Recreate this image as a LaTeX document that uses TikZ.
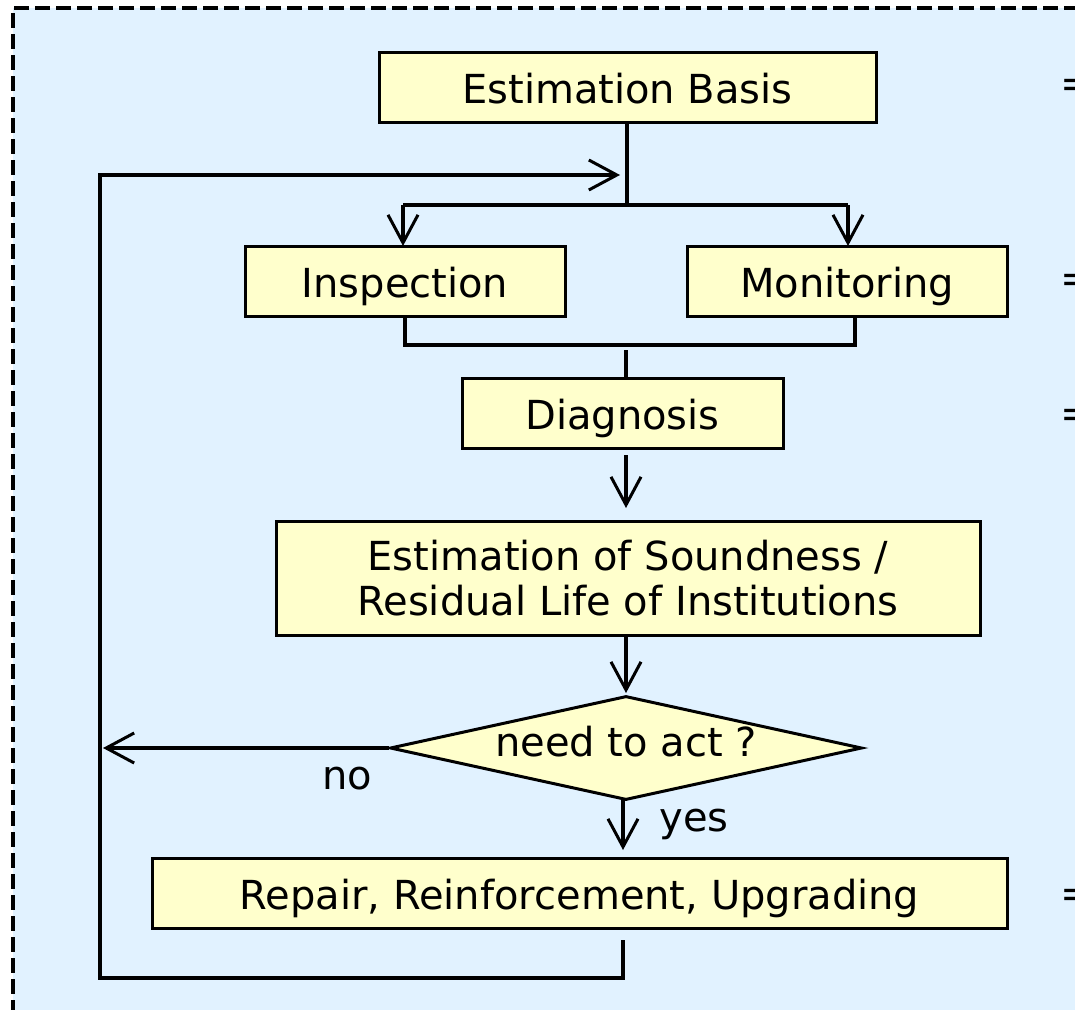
\documentclass[tikz,border=0pt]{standalone}
\usepackage{fontspec}
\setmainfont{DejaVu Sans}
\usetikzlibrary{arrows.meta,shapes.geometric}

\definecolor{panelbg}{RGB}{225,242,255}
\definecolor{boxfill}{RGB}{255,255,204}

\tikzset{
  txt/.style={font=\fontsize{40}{45}\selectfont},
  box/.style={txt, draw=black, line width=3pt, fill=boxfill, inner sep=0pt, align=center},
  onerow/.style={text height=40pt, text depth=7pt},
  decision/.style={txt, diamond, draw=black, line width=3pt, fill=boxfill, inner sep=0pt,
              shape aspect=4.54, minimum width=472pt, minimum height=104pt,
              text height=25pt, text depth=8pt},
  link/.style={line width=3.5pt},
  arr/.style={line width=3.5pt, -{Straight Barb[length=28pt,width=30pt,line width=3pt]}},
  tag/.style={txt, inner sep=0pt},
  frame/.style={line width=3.5pt, dash pattern=on 15pt off 6pt},
}

\begin{document}
\begin{tikzpicture}[x=1pt,y=-1pt]
  \useasboundingbox (0,0) rectangle (1075,1009);
  \clip (0,0) rectangle (1075,1009);

  % panel with dashed frame
  \fill[panelbg] (13,8) rectangle (1100,1040);
  \draw[frame] (1100,8) -- (13,8) -- (13,1040);

  % process steps
  \node[box, onerow, minimum width=497pt, minimum height=70pt] (eb)   at (627.5,87)  {Estimation Basis};
  \node[box, onerow, minimum width=320pt, minimum height=70pt] (insp) at (405,281)   {Inspection};
  \node[box, onerow, minimum width=320pt, minimum height=70pt] (mon)  at (847,281)   {Monitoring};
  \node[box, onerow, minimum width=321pt, minimum height=70pt] (diag) at (622.5,413) {Diagnosis};
  \node[box, minimum width=704pt, minimum height=114pt] (est) at (628,578)
       {Estimation of Soundness /\\Residual Life of Institutions};
  \node[decision] (dec) at (626,748) {need to act ?};
  \node[box, onerow, minimum width=855pt, minimum height=70pt] (rep)  at (579.5,893) {Repair, Reinforcement, Upgrading};

  % side markers
  \node[tag, anchor=west] (m1) at (1060,88)  {=};
  \node[tag, anchor=west] (m2) at (1060,283) {=};
  \node[tag, anchor=west] (m3) at (1060,418) {=};
  \node[tag, anchor=west] (m4) at (1060,898) {=};

  % branch labels
  \node[tag] (no)  at (347,779) {no};
  \node[tag] (yes) at (694,824) {yes};

  % helper points
  \coordinate (split)  at (627,205);
  \coordinate (merge)  at (620,175);
  \coordinate (joinL)  at (405,345);
  \coordinate (joinR)  at (855,345);
  \coordinate (joinC)  at (626,350);
  \coordinate (diagOut) at (626,455);
  \coordinate (estIn)  at (626,508);
  \coordinate (decIn)  at (626,693);
  \coordinate (yesOut) at (623,800);
  \coordinate (repIn)  at (623,850);
  \coordinate (repOut) at (623,940);
  \coordinate (loopB)  at (100,978);
  \coordinate (noTip)  at (103,748);

  % top distribution
  \draw[link] (eb.south -| split) -- (split);
  \draw[link] (403,205) -- (848,205);
  \draw[arr] (403,205) -- (403,246);
  \draw[arr] (848,205) -- (848,246);

  % collect inspection and monitoring
  \draw[link] (insp.south) -- (joinL) -- (joinR) -- (joinR |- mon.south);
  \draw[link] (joinC) -- (joinC |- diag.north);

  % main chain
  \draw[arr] (diagOut) -- (estIn);
  \draw[arr] (est.south -| decIn) -- (decIn);
  \draw[arr] (yesOut) -- (repIn);
  \draw[arr] (dec.west) -- (noTip);

  % feedback loop
  \draw[arr] (repOut) |- (loopB) |- (merge);
\end{tikzpicture}
\end{document}
